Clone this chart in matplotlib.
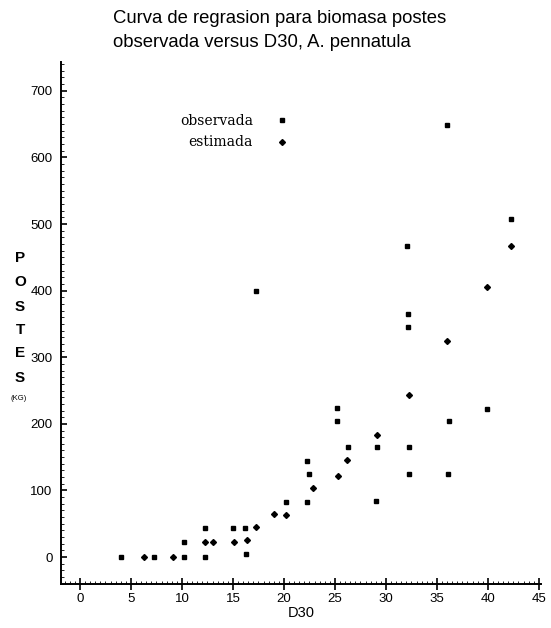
import matplotlib
matplotlib.use("Agg")
import matplotlib.pyplot as plt
from matplotlib.ticker import MultipleLocator

# Observed biomass (postes, kg) vs D30
obs_x = [4.0, 7.3, 10.2, 10.2, 12.3, 12.3, 15.0, 16.2, 16.3, 17.3, 20.2, 22.3, 22.5,
         22.3, 25.2, 25.2, 26.3, 29.1, 29.0, 32.2, 32.2, 32.1, 32.3, 32.3, 36.0,
         36.2, 36.1, 39.9, 42.3]
obs_y = [0, 0, 0, 23, 0, 43, 43, 43, 4, 400, 83, 82, 124,
         144, 224, 204, 165, 165, 84, 365, 345, 467, 165, 124, 648,
         204, 124, 223, 508]

# Estimated biomass from regression curve
est_x = [6.3, 9.1, 12.3, 13.0, 15.1, 16.4, 17.3, 19.0, 20.2, 22.9, 25.3, 26.2,
         29.1, 32.3, 36.0, 39.9, 42.3]
est_y = [0, 0, 23, 23, 23, 25, 45, 64, 63, 104, 122, 145,
         183, 243, 325, 405, 467]

x_ticks = [0, 5, 10, 15, 20, 25, 30, 35, 40, 45]
y_ticks = [0, 100, 200, 300, 400, 500, 600, 700]

plt.rcParams['font.family'] = ['Liberation Sans', 'DejaVu Sans']

fig = plt.figure(figsize=(5.51, 6.28), dpi=100)
ax = fig.add_axes([0.1107, 0.070, 0.871, 0.831])

ax.plot(obs_x, obs_y, linestyle='none', marker='s', markersize=3,
        color='black', label='observada')
ax.plot(est_x, est_y, linestyle='none', marker='D', markersize=3,
        color='black', label='estimada')

ax.set_xlim(-1.86, 45.2)
ax.set_ylim(-40.5, 743)
ax.set_xticks(x_ticks)
ax.set_yticks(y_ticks)
ax.xaxis.set_minor_locator(MultipleLocator(0.5))
ax.yaxis.set_minor_locator(MultipleLocator(10))

for s in ['top', 'right']:
    ax.spines[s].set_visible(False)
for s in ['left', 'bottom']:
    ax.spines[s].set_linewidth(1.4)

ax.tick_params(axis='x', which='major', direction='inout', length=9, width=1.2,
               labelsize=9.5, pad=2)
ax.tick_params(axis='y', which='major', direction='in', length=4, width=1.2,
               labelsize=9.5, pad=6)
ax.tick_params(axis='both', which='minor', direction='in', length=2, width=0.6)

ax.set_xlabel('D30', fontsize=10.5, labelpad=1)

ax.legend(loc='upper left', bbox_to_anchor=(0.222, 0.925), frameon=False,
          markerfirst=False, handlelength=1.2, handletextpad=1.5,
          labelspacing=0.55, prop={'family': 'DejaVu Serif', 'size': 10})

fig.text(0.205, 0.984, 'Curva de regrasion para biomasa postes', fontsize=13.3,
         va='top', ha='left')
fig.text(0.205, 0.946, 'observada versus D30, A. pennatula', fontsize=13.3,
         va='top', ha='left')

letters = ['P', 'O', 'S', 'T', 'E', 'S']
ys = [258, 282, 307, 330, 353, 378]
for ch, yy in zip(letters, ys):
    fig.text(20 / 551, 1 - yy / 628, ch, fontsize=11, fontweight='bold',
             ha='center', va='center')
fig.text(19 / 551, 1 - 398 / 628, '(KG)', fontsize=5.5, ha='center', va='center')

fig.savefig('out.png', dpi=100)
